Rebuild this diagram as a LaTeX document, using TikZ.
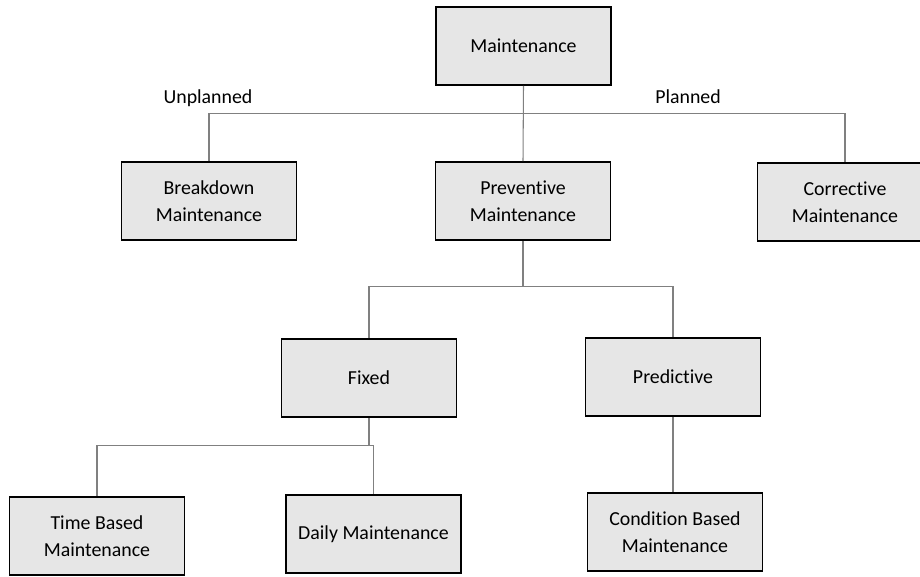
\documentclass[tikz,border=0pt]{standalone}
\usepackage{fontspec}
\setmainfont{Carlito}[Ligatures=CommonOff]
\usetikzlibrary{positioning,calc}
\definecolor{boxgray}{HTML}{E6E6E6}
\definecolor{linegray}{HTML}{808080}
\tikzset{
 box/.style={draw,line width=0.9pt,fill=boxgray,align=center,minimum width=3.5cm,
             minimum height=1.56cm,font=\fontsize{11.3}{15.3}\selectfont},
 link/.style={draw=linegray,line width=0.6pt},
 tag/.style={font=\fontsize{11.3}{14}\selectfont}
}
\begin{document}
\begin{tikzpicture}[x=0.02cm,y=-0.02cm]
\useasboundingbox (0,0) rectangle (920,576);
\clip (0,0) rectangle (920,576);
\node[box] (maint) at (523.5,46) {Maintenance};
\node[box] (brk) at (209,201) {Breakdown\\Maintenance};
\node[box] (prev) at (523,201) {Preventive\\Maintenance};
\node[box] (corr) at (845,202) {Corrective\\Maintenance};
\node[box] (fix) at (369,378) {Fixed};
\node[box] (pred) at (673,377) {Predictive};
\node[box] (tbm) at (97,536) {Time Based\\Maintenance};
\node[box] (daily) at (373.5,534) {Daily Maintenance};
\node[box] (cbm) at (675,532) {Condition Based\\Maintenance};
\node[tag] (unpl) at (208,98) {Unplanned};
\node[tag] (plan) at (688,97) {Planned};
% branch points
\coordinate (j1) at ($(maint.south)+(0,28)$);
\coordinate (j2) at ($(prev.south)+(0,46)$);
\coordinate (j3) at ($(fix.south)+(0,28)$);
\draw[link] (maint.south) -- (prev.north);
\draw[link] (brk.north) |- (j1) -| (corr.north);
\draw[link] (prev.south) -- (j2);
\draw[link] (fix.north) |- (j2) -| (pred.north);
\draw[link] (fix.south) -- (j3);
\draw[link] (tbm.north) |- (j3) -| (daily.north);
\draw[link] (pred.south) -- (pred.south |- cbm.north);
\end{tikzpicture}
\end{document}
